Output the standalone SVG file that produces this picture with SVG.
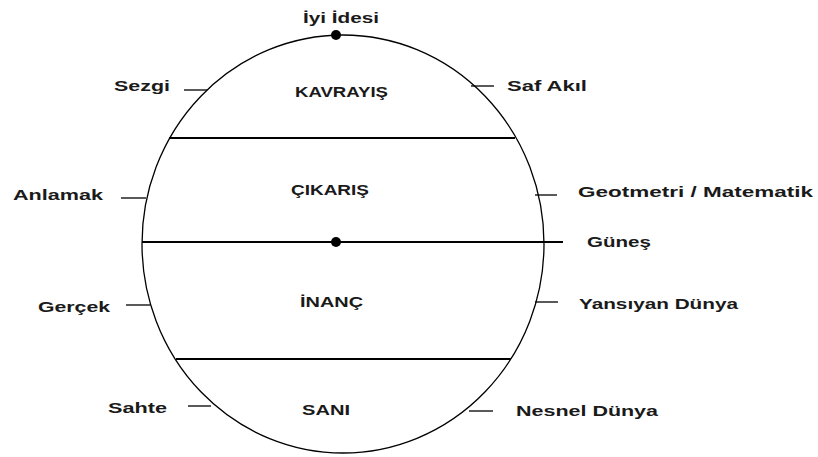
<svg xmlns="http://www.w3.org/2000/svg" width="818" height="457" viewBox="0 0 818 457">
<style>
.lbl{font-family:"Liberation Sans",Arial,sans-serif;font-weight:bold;font-size:15px;fill:#1a1a1a}
.ell{fill:#fff;stroke:#000;stroke-width:1.3}
.ln{stroke:#000;stroke-width:1.8}
.tk{stroke:#000;stroke-width:1.3}
</style>
<rect width="818" height="457" fill="#fff"/>
<g id="ellipse"><ellipse class="ell" cx="343" cy="244" rx="201" ry="209"/></g>
<g id="connectors">
<line class="ln" x1="169" y1="138" x2="515" y2="138"/>
<line class="ln" x1="142" y1="242" x2="563" y2="242"/>
<line class="ln" x1="176" y1="359" x2="511" y2="359"/>
<line class="tk" x1="184" y1="90" x2="207" y2="90"/>
<line class="tk" x1="471" y1="86" x2="494" y2="86"/>
<line class="tk" x1="121" y1="198" x2="146" y2="198"/>
<line class="tk" x1="535" y1="195" x2="557" y2="195"/>
<line class="tk" x1="126" y1="305" x2="150" y2="305"/>
<line class="tk" x1="535" y1="302" x2="558" y2="302"/>
<line class="tk" x1="188" y1="406" x2="211" y2="406"/>
<line class="tk" x1="469" y1="411" x2="493" y2="411"/>
</g>
<g id="iyi-idesi"><circle cx="336" cy="35" r="5" fill="#000"/><text class="lbl" x="303" y="23" textLength="76" lengthAdjust="spacingAndGlyphs">İyi İdesi</text></g>
<g id="gunes"><circle cx="336" cy="242" r="5" fill="#000"/><text class="lbl" x="587" y="247" textLength="64" lengthAdjust="spacingAndGlyphs">Güneş</text></g>
<g id="kavrayis"><text class="lbl" x="295" y="97" textLength="93" lengthAdjust="spacingAndGlyphs">KAVRAYIŞ</text></g>
<g id="cikaris"><text class="lbl" x="291" y="195" textLength="78" lengthAdjust="spacingAndGlyphs">ÇIKARIŞ</text></g>
<g id="inanc"><text class="lbl" x="300" y="307" textLength="63" lengthAdjust="spacingAndGlyphs">İNANÇ</text></g>
<g id="sani"><text class="lbl" x="302" y="415" textLength="48" lengthAdjust="spacingAndGlyphs">SANI</text></g>
<g id="sezgi"><text class="lbl" x="114" y="91" textLength="56" lengthAdjust="spacingAndGlyphs">Sezgi</text></g>
<g id="saf-akil"><text class="lbl" x="507" y="91" textLength="80" lengthAdjust="spacingAndGlyphs">Saf Akıl</text></g>
<g id="anlamak"><text class="lbl" x="13" y="200" textLength="90" lengthAdjust="spacingAndGlyphs">Anlamak</text></g>
<g id="geometri"><text class="lbl" x="578" y="197" textLength="235" lengthAdjust="spacingAndGlyphs">Geotmetri / Matematik</text></g>
<g id="gercek"><text class="lbl" x="38" y="312" textLength="72" lengthAdjust="spacingAndGlyphs">Gerçek</text></g>
<g id="yansiyan"><text class="lbl" x="579" y="309" textLength="159" lengthAdjust="spacingAndGlyphs">Yansıyan Dünya</text></g>
<g id="sahte"><text class="lbl" x="108" y="413" textLength="59" lengthAdjust="spacingAndGlyphs">Sahte</text></g>
<g id="nesnel"><text class="lbl" x="516" y="416" textLength="142" lengthAdjust="spacingAndGlyphs">Nesnel Dünya</text></g>
</svg>
